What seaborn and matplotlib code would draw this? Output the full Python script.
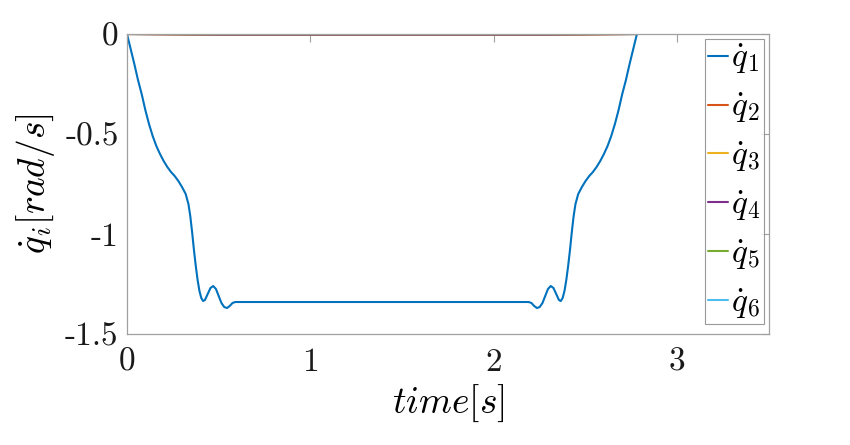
import numpy as np
import pandas as pd
import matplotlib
matplotlib.use("Agg")
import matplotlib.pyplot as plt
import seaborn as sns

# joint velocity q1 (time in s, rad/s)
t_q1 = [0.0, 0.02, 0.04, 0.06, 0.08, 0.10, 0.12, 0.14, 0.16, 0.18, 0.20, 0.22,
        0.24, 0.26, 0.28, 0.30, 0.32, 0.335, 0.345, 0.355, 0.365, 0.375, 0.385,
        0.395, 0.405, 0.415, 0.425, 0.44, 0.455, 0.47, 0.485, 0.50, 0.515, 0.53,
        0.545, 0.56, 0.575, 0.59, 1.39, 2.19,
        2.205, 2.22, 2.235, 2.25, 2.265, 2.28, 2.295, 2.31, 2.325, 2.34, 2.355,
        2.365, 2.375, 2.385, 2.395, 2.405, 2.415, 2.425, 2.435, 2.445, 2.46,
        2.48, 2.50, 2.52, 2.54, 2.56, 2.58, 2.60, 2.62, 2.64, 2.66, 2.68, 2.70,
        2.72, 2.74, 2.76, 2.78]
q1 = [0.0, -0.075, -0.15, -0.23, -0.30, -0.38, -0.45, -0.51, -0.56, -0.60,
      -0.635, -0.665, -0.69, -0.71, -0.735, -0.765, -0.80, -0.85, -0.91, -0.99,
      -1.08, -1.16, -1.23, -1.285, -1.32, -1.335, -1.33, -1.30, -1.27, -1.26,
      -1.275, -1.31, -1.345, -1.365, -1.37, -1.36, -1.345, -1.34, -1.34, -1.34,
      -1.345, -1.36, -1.37, -1.365, -1.345, -1.31, -1.275, -1.26, -1.27, -1.30,
      -1.33, -1.335, -1.32, -1.285, -1.23, -1.16, -1.08, -0.99, -0.91, -0.85,
      -0.80, -0.765, -0.735, -0.71, -0.69, -0.665, -0.635, -0.60, -0.56, -0.51,
      -0.45, -0.38, -0.30, -0.23, -0.15, -0.075, 0.0]

# the other joints stay at (almost) zero
t_rest = [0.0, 0.5, 1.4, 2.3, 2.78]
q2 = [0.0, -0.004, -0.004, -0.004, 0.0]
q3 = [0.0, -0.002, -0.002, -0.002, 0.0]
q4 = [0.0, -0.003, -0.003, -0.003, 0.0]
q5 = [0.0, -0.001, -0.001, -0.001, 0.0]
q6 = [0.0, 0.0, 0.0, 0.0, 0.0]

labels = [r'$\dot{q}_%d$' % i for i in range(1, 7)]
colors = ['#0072BD', '#D95319', '#EDB120', '#7E2F8E', '#77AC30', '#4DBEEE']

frames = [pd.DataFrame({'t': t_q1, 'v': q1, 'joint': labels[0]})]
for lab, vals in zip(labels[1:], [q2, q3, q4, q5, q6]):
    frames.append(pd.DataFrame({'t': t_rest, 'v': vals, 'joint': lab}))
df = pd.concat(frames, ignore_index=True)

sns.set_style("white")
plt.rcParams['mathtext.fontset'] = 'cm'
plt.rcParams['font.family'] = ['cmr10', 'DejaVu Serif']
plt.rcParams['axes.unicode_minus'] = False
plt.rcParams['text.color'] = 'black'
plt.rcParams['axes.labelcolor'] = 'black'
plt.rcParams['xtick.labelcolor'] = '#1a1a1a'
plt.rcParams['ytick.labelcolor'] = '#1a1a1a'

fig = plt.figure(figsize=(8.5, 4.45), dpi=100)
ax = fig.add_axes([0.1494, 0.2494, 0.7553, 0.6742])

sns.lineplot(data=df, x='t', y='v', hue='joint', palette=colors, estimator=None,
             sort=False, linewidth=1.5, ax=ax)

ax.set_xlim(0, 3.5)
ax.set_ylim(-1.5, 0)
ax.set_xticks([0, 1, 2, 3])
ax.set_xticklabels(['0', '1', '2', '3'])
ax.set_yticks([-1.5, -1, -0.5, 0])
ax.set_yticklabels(['-1.5', '-1', '-0.5', '0'])
ax.tick_params(direction='in', length=6, width=0.8, color='#a0a0a0',
               labelsize=24, top=True, right=True, pad=6)
ax.tick_params(axis='x', pad=10)
for s in ax.spines.values():
    s.set_color('#a0a0a0')
    s.set_linewidth(0.9)

ax.set_xlabel(r'$time[s]$', fontsize=27, labelpad=4)
ax.set_ylabel(r'$\dot{q}_i[rad/s]$', fontsize=27, labelpad=6)

leg = ax.legend(loc='upper right', fontsize=24, frameon=True, fancybox=False,
                handlelength=0.6, handletextpad=0.1, borderpad=0.1,
                labelspacing=0.44, borderaxespad=0.15)
leg.get_frame().set_edgecolor('#808080')
leg.get_frame().set_linewidth(0.8)

fig.savefig('out.png', dpi=100)
